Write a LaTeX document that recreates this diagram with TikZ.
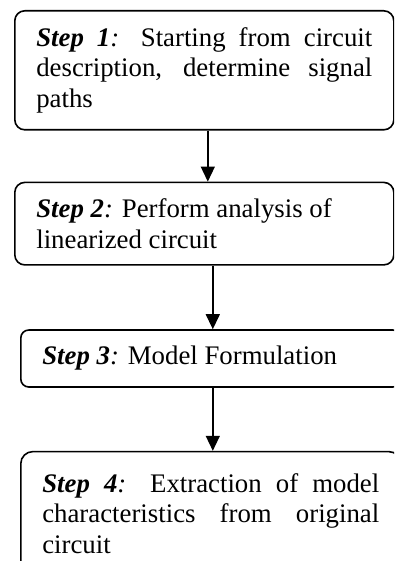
\documentclass[tikz,border=0pt]{standalone}
\usepackage{fontspec}
\setmainfont{Liberation Serif}
\usetikzlibrary{positioning,arrows.meta}
\tolerance=10000
\hyphenpenalty=10000
\begin{document}
\begin{tikzpicture}[x=1bp,y=1bp,stepbox/.style={draw,line width=1.6bp,rounded corners=10bp,inner xsep=21.5bp,inner ysep=4bp,font=\fontsize{26.8bp}{30.5bp}\selectfont},flow/.style={-{Triangle[length=15bp,width=14bp]},line width=1.4bp}]
	\useasboundingbox (0,0) rectangle (394,-561);
	\clip (0,0) rectangle (394,-561);
	\node[stepbox,anchor=north west,text width=336bp,minimum height=119bp,align=justify] (step1) at (14,-10) {\textbf{\textit{Step 1}}\textit{:} Starting from circuit description, determine signal paths};
	\node[stepbox,below=51bp of step1,text width=336bp,minimum height=82.5bp,align=flush left] (step2) {\textbf{\textit{Step 2}}\textit{:} Perform analysis of linearized circuit};
	\node[stepbox,below right=63.5bp and 6bp of step2.south west,text width=337bp,minimum height=57bp,rounded corners=8bp,align=flush left] (step3) {\textbf{\textit{Step 3}}\textit{:} Model Formulation};
	\node[stepbox,below=63bp of step3,text width=337bp,minimum height=124bp,rounded corners=12bp,align=justify] (step4) {\textbf{\textit{Step 4}}\textit{:} Extraction of model characteristics from original circuit};
	\draw[flow] ([xshift=3.5bp]step1.south) -- ([xshift=3.5bp]step2.north);
	\draw[flow] ([xshift=8.5bp]step2.south) -- ([xshift=2bp]step3.north);
	\draw[flow] ([xshift=2bp]step3.south) -- ([xshift=2bp]step4.north);
\end{tikzpicture}
\end{document}
